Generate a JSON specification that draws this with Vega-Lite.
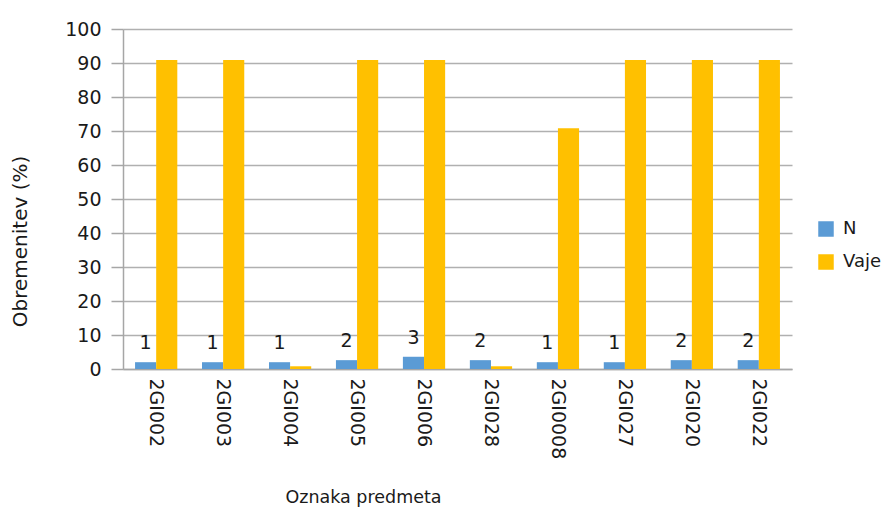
{
  "$schema": "https://vega.github.io/schema/vega-lite/v6.json",
  "width": 669,
  "height": 340,
  "autosize": "none",
  "padding": {"left": 123, "top": 29, "right": 96, "bottom": 144},
  "background": "white",
  "config": {
    "font": "DejaVu Sans",
    "view": {"stroke": null}
  },
  "data": {
    "values": [
      {"predmet": "2GI002", "serija": "N", "vrednost": 2.0, "oznaka": "1"},
      {"predmet": "2GI002", "serija": "Vaje", "vrednost": 90.9, "oznaka": ""},
      {"predmet": "2GI003", "serija": "N", "vrednost": 2.0, "oznaka": "1"},
      {"predmet": "2GI003", "serija": "Vaje", "vrednost": 90.9, "oznaka": ""},
      {"predmet": "2GI004", "serija": "N", "vrednost": 2.0, "oznaka": "1"},
      {"predmet": "2GI004", "serija": "Vaje", "vrednost": 0.8, "oznaka": ""},
      {"predmet": "2GI005", "serija": "N", "vrednost": 2.6, "oznaka": "2"},
      {"predmet": "2GI005", "serija": "Vaje", "vrednost": 90.9, "oznaka": ""},
      {"predmet": "2GI006", "serija": "N", "vrednost": 3.6, "oznaka": "3"},
      {"predmet": "2GI006", "serija": "Vaje", "vrednost": 90.9, "oznaka": ""},
      {"predmet": "2GI028", "serija": "N", "vrednost": 2.6, "oznaka": "2"},
      {"predmet": "2GI028", "serija": "Vaje", "vrednost": 0.8, "oznaka": ""},
      {"predmet": "2GI0008", "serija": "N", "vrednost": 2.0, "oznaka": "1"},
      {"predmet": "2GI0008", "serija": "Vaje", "vrednost": 70.8, "oznaka": ""},
      {"predmet": "2GI027", "serija": "N", "vrednost": 2.0, "oznaka": "1"},
      {"predmet": "2GI027", "serija": "Vaje", "vrednost": 90.9, "oznaka": ""},
      {"predmet": "2GI020", "serija": "N", "vrednost": 2.6, "oznaka": "2"},
      {"predmet": "2GI020", "serija": "Vaje", "vrednost": 90.9, "oznaka": ""},
      {"predmet": "2GI022", "serija": "N", "vrednost": 2.6, "oznaka": "2"},
      {"predmet": "2GI022", "serija": "Vaje", "vrednost": 90.9, "oznaka": ""}
    ]
  },
  "encoding": {
    "x": {
      "field": "predmet",
      "type": "nominal",
      "sort": null,
      "scale": {"paddingInner": 0.369, "paddingOuter": 0.18},
      "axis": {
        "title": "Oznaka predmeta",
        "titleFont": "DejaVu Sans",
        "titleFontSize": 17.5,
        "titleFontWeight": "normal",
        "titleColor": "#1a1a1a",
        "titleX": 240,
        "titleY": 128,
        "titleBaseline": "middle",
        "titleAlign": "center",
        "labelAngle": 90,
        "labelAlign": "left",
        "labelBaseline": "middle",
        "labelPadding": 9,
        "labelFontSize": 19,
        "labelColor": "#1a1a1a",
        "ticks": false,
        "domainColor": "#a6a6a6",
        "domainWidth": 1.5
      }
    },
    "xOffset": {"field": "serija", "type": "nominal", "sort": ["N", "Vaje"], "scale": {"paddingInner": 0}},
    "y": {
      "field": "vrednost",
      "type": "quantitative",
      "scale": {"domain": [0, 100]},
      "axis": {
        "title": "Obremenitev (%)",
        "titleFont": "DejaVu Sans",
        "titleFontSize": 20,
        "titleFontWeight": "normal",
        "titleColor": "#1a1a1a",
        "titleX": -103,
        "titleY": 212,
        "titleAlign": "center",
        "titleBaseline": "middle",
        "values": [0, 10, 20, 30, 40, 50, 60, 70, 80, 90, 100],
        "labelFontSize": 19,
        "labelColor": "#1a1a1a",
        "labelPadding": 10,
        "tickSize": 12,
        "tickColor": "#a6a6a6",
        "tickWidth": 1.5,
        "domainColor": "#a6a6a6",
        "domainWidth": 1.5,
        "gridColor": "#b0b0b0",
        "gridWidth": 1.5
      }
    }
  },
  "layer": [
    {
      "mark": {"type": "bar"},
      "encoding": {
        "color": {
          "field": "serija",
          "type": "nominal",
          "scale": {"domain": ["N", "Vaje"], "range": ["#5b9bd5", "#ffc000"]},
          "legend": {
            "title": null,
            "orient": "none",
            "legendX": 694,
            "legendY": 191,
            "symbolType": "square",
            "symbolSize": 240,
            "symbolStrokeWidth": 0,
            "labelFontSize": 18,
            "labelColor": "#1a1a1a",
            "rowPadding": 15,
            "labelOffset": 8
          }
        }
      }
    },
    {
      "transform": [{"filter": "datum.serija === 'N'"}],
      "mark": {"type": "text", "baseline": "bottom", "dy": -9, "fontSize": 19, "color": "#1a1a1a"},
      "encoding": {
        "text": {"field": "oznaka"}
      }
    }
  ]
}
